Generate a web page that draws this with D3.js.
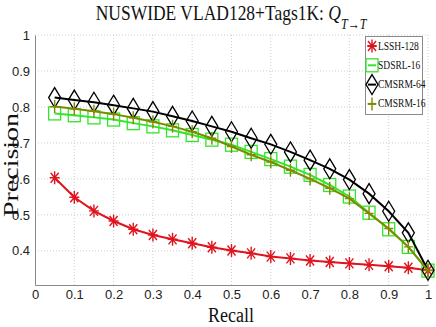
<!DOCTYPE html>
<html>
<head>
<meta charset="utf-8">
<script src="https://cdnjs.cloudflare.com/ajax/libs/d3/7.8.5/d3.min.js"></script>
<style>
  body { margin: 0; background: #fff; }
  svg { display: block; }
</style>
</head>
<body>
<div id="chart"></div>
<script>
// recall levels (x) and precision of each method
var recall  = [0.05, 0.1, 0.15, 0.2, 0.25, 0.3, 0.35, 0.4, 0.45, 0.5, 0.55, 0.6, 0.65, 0.7, 0.75, 0.8, 0.85, 0.9, 0.95, 1.0];
var lssh    = [0.603, 0.549, 0.511, 0.483, 0.460, 0.444, 0.432, 0.421, 0.410, 0.401, 0.393, 0.384, 0.379, 0.373, 0.369, 0.365, 0.361, 0.357, 0.353, 0.346];
var sdsrl   = [0.782, 0.777, 0.771, 0.765, 0.755, 0.746, 0.735, 0.722, 0.709, 0.695, 0.675, 0.655, 0.634, 0.611, 0.583, 0.551, 0.506, 0.460, 0.411, 0.345];
var cmsrm64 = [0.826, 0.819, 0.813, 0.805, 0.796, 0.787, 0.774, 0.761, 0.746, 0.731, 0.713, 0.696, 0.675, 0.652, 0.628, 0.598, 0.559, 0.510, 0.450, 0.346];
var cmsrm16 = [0.801, 0.795, 0.788, 0.780, 0.770, 0.759, 0.746, 0.731, 0.713, 0.690, 0.667, 0.647, 0.624, 0.600, 0.574, 0.545, 0.504, 0.462, 0.411, 0.345];

var seriesNames = ["LSSH-128", "SDSRL-16", "CMSRM-64", "CMSRM-16"];
var xTicks = [0, 0.1, 0.2, 0.3, 0.4, 0.5, 0.6, 0.7, 0.8, 0.9, 1];
var yTicks = [0.4, 0.5, 0.6, 0.7, 0.8, 0.9, 1];

var W = 436, H = 327;
var serif = "'Liberation Serif', 'DejaVu Serif', serif";
var sans = "'Liberation Sans', Arial, sans-serif";

var svg = d3.select("#chart").append("svg")
    .attr("width", W)
    .attr("height", H);

var x = d3.scaleLinear().domain([0, 1]).range([35, 428]);
var y = d3.scaleLinear().domain([0.305, 1]).range([285, 35]);

//grid
svg.append("g").selectAll("line").data(xTicks.slice(1)).enter().append("line")
    .attr("x1", function(d){ return x(d); })
    .attr("x2", function(d){ return x(d); })
    .attr("y1", y(1)).attr("y2", y(0.305))
    .style("stroke", "#cfcfcf").style("stroke-dasharray", "1,2");
svg.append("g").selectAll("line").data(yTicks).enter().append("line")
    .attr("x1", x(0)).attr("x2", x(1))
    .attr("y1", function(d){ return y(d); })
    .attr("y2", function(d){ return y(d); })
    .style("stroke", "#cfcfcf").style("stroke-dasharray", "1,2");

//axes
var xAxis = svg.append("g")
    .attr("transform", "translate(0," + y(0.305) + ")")
    .call(d3.axisBottom(x).tickValues(xTicks).tickSize(0).tickPadding(5).tickFormat(d3.format("")));
var yAxis = svg.append("g")
    .attr("transform", "translate(" + x(0) + ",0)")
    .call(d3.axisLeft(y).tickValues(yTicks).tickSize(0).tickPadding(5).tickFormat(d3.format("")));
[xAxis, yAxis].forEach(function(a){
    a.select(".domain").style("stroke", "#8a8a8a").style("stroke-width", 1);
    a.selectAll("text").style("font-family", sans).style("font-size", "13px").style("fill", "#222");
});

//titles (stretched a bit vertically like the original)
function stretchedText(tx, ty, rot, sx, sy, txt, size){
    var g = svg.append("g")
        .attr("transform", "translate(" + tx + "," + ty + ") rotate(" + rot + ") scale(" + sx + "," + sy + ")");
    return g.append("text")
        .attr("text-anchor", "middle")
        .style("font-family", serif)
        .style("font-size", size + "px")
        .style("fill", "#111")
        .text(txt);
}

var title = stretchedText(231, 20, 0, 1, 1.2, "NUSWIDE VLAD128+Tags1K: ", 17.5);
title.append("tspan").style("font-style", "italic").text("Q");
title.append("tspan").attr("baseline-shift", "sub").style("font-size", "12px").style("font-style", "italic").text("T→T");

stretchedText(231, 322, 0, 1, 1.2, "Recall", 18);
stretchedText(18, 165, -90, 1.4, 1, "Precision", 20);

//series
var colors = ["#e0141e", "#33e52a", "#000000", "#7f8a00"];
var allSeries = [lssh, sdsrl, cmsrm64, cmsrm16];
var markers = ["star", "square", "diamond", "plus"];

function drawMarker(g, type, color){
    if (type == "star"){
        g.append("path").attr("d", "M0,-6.5L0,6.5M-5,0L5,0M-4,-5L4,5M-4,5L4,-5")
            .style("stroke", color).style("stroke-width", 1.4).style("fill", "none");
    }
    else if (type == "square"){
        g.append("rect").attr("x", -6).attr("y", -6.5).attr("width", 12).attr("height", 13)
            .style("stroke", color).style("stroke-width", 1.3).style("fill", "none");
    }
    else if (type == "diamond"){
        g.append("path").attr("d", "M0,-10L6,0L0,10L-6,0Z")
            .style("stroke", color).style("stroke-width", 1.3).style("fill", "none");
    }
    else {
        g.append("path").attr("d", "M0,-6.5L0,6.5M-4.5,0L4.5,0")
            .style("stroke", color).style("stroke-width", 1.4).style("fill", "none");
    }
}

var line = d3.line()
    .x(function(d){ return x(d[0]); })
    .y(function(d){ return y(d[1]); });

allSeries.forEach(function(vals, i){
    var pts = recall.map(function(r, k){ return [r, vals[k]]; });
    svg.append("path").datum(pts)
        .attr("d", line)
        .style("fill", "none")
        .style("stroke", colors[i])
        .style("stroke-width", 2);
    pts.forEach(function(p){
        var g = svg.append("g").attr("transform", "translate(" + x(p[0]) + "," + y(p[1]) + ")");
        drawMarker(g, markers[i], colors[i]);
    });
});

//legend
var legend = svg.append("g");
legend.append("rect")
    .attr("x", 365.5).attr("y", 36.5).attr("width", 57).attr("height", 78)
    .style("fill", "#fff").style("stroke", "#8a8a8a").style("stroke-width", 1);
seriesNames.forEach(function(name, i){
    var ly = 46 + i * 19.3;
    var g = legend.append("g").attr("transform", "translate(372," + ly + ")");
    g.append("line").attr("x1", -4).attr("x2", 4).attr("y1", 0).attr("y2", 0)
        .style("stroke", colors[i]).style("stroke-width", 2);
    drawMarker(g, markers[i], colors[i]);
    legend.append("g").attr("transform", "translate(378," + (ly + 3.5) + ") scale(1,1.25)")
        .append("text")
        .style("font-family", serif)
        .style("font-size", "9.5px")
        .style("fill", "#111")
        .text(name);
});
</script>
</body>
</html>
